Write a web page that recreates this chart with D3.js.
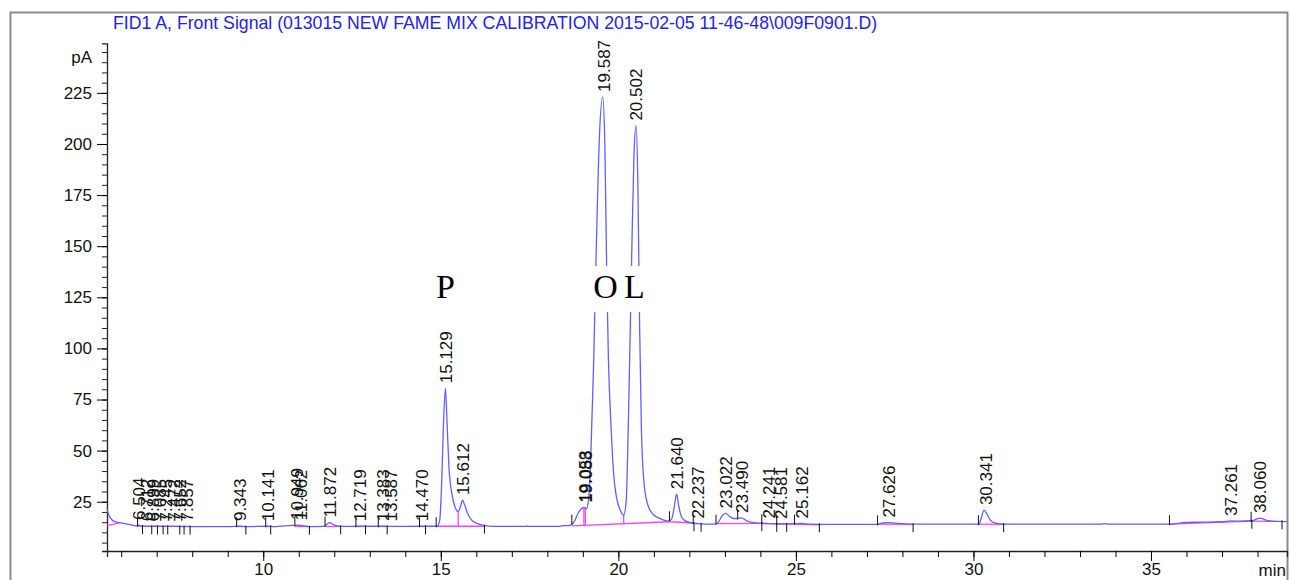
<!DOCTYPE html>
<html>
<head>
<meta charset="utf-8">
<script src="https://cdn.jsdelivr.net/npm/d3@7.9.0/dist/d3.min.js"></script>
<style>
    body { margin: 0; background: #fff; }
    svg { display: block; font-family: Arial, 'Liberation Sans', sans-serif; }
</style>
</head>
<body>
<svg id="chart" width="1290" height="580"></svg>
<script>
const title = 'FID1 A, Front Signal (013015 NEW FAME MIX CALIBRATION 2015-02-05 11-46-48\\009F0901.D)';

// signal trace: [retention time (min), pA]
const trace = [
    [5.60, 21.8], [5.64, 19.0], [5.70, 17.0], [5.80, 15.4], [5.95, 14.8], [6.10, 14.3],
    [6.30, 13.6], [6.45, 13.2], [6.50, 13.6], [6.56, 13.1], [6.90, 12.9], [7.50, 12.9],
    [7.90, 12.8], [9.00, 12.8], [9.34, 13.1], [9.50, 12.8], [10.14, 13.0], [10.30, 12.8],
    [10.95, 13.6], [11.06, 13.4], [11.30, 12.8], [11.70, 12.9], [11.87, 14.8], [12.00, 13.6],
    [12.20, 12.9], [12.72, 13.0], [13.38, 13.0], [13.59, 12.9], [14.47, 13.0], [14.90, 13.0],
    [14.97, 16], [15.02, 32], [15.07, 60], [15.13, 80.5], [15.18, 62], [15.23, 42],
    [15.31, 29], [15.40, 22.5], [15.49, 20.2], [15.56, 23], [15.61, 25.8], [15.67, 23.5],
    [15.75, 19.5], [15.87, 16], [16.00, 14.5], [16.20, 13.4], [16.50, 12.9], [17.40, 12.9],
    [17.42, 13.2], [17.46, 12.9], [18.30, 12.9], [18.45, 13.3], [18.60, 13.3], [18.75, 15],
    [18.87, 19.5], [18.96, 21.6], [19.05, 22.2], [19.10, 21.5], [19.16, 26], [19.22, 45],
    [19.30, 90], [19.38, 150], [19.47, 205], [19.56, 223], [19.62, 200], [19.67, 140],
    [19.72, 95], [19.80, 60], [19.87, 38], [19.95, 27], [20.05, 21], [20.15, 18.5],
    [20.22, 25], [20.29, 70], [20.37, 140], [20.44, 195], [20.50, 209], [20.55, 180],
    [20.60, 110], [20.65, 60], [20.72, 35], [20.82, 24], [20.97, 19], [21.15, 17],
    [21.40, 15.5], [21.50, 16.5], [21.57, 22], [21.64, 28.7], [21.70, 23], [21.78, 17.5],
    [21.90, 15.5], [22.10, 14.5], [22.24, 14.3], [22.70, 14.0], [22.80, 14.6], [22.92, 18],
    [23.02, 19.3], [23.12, 18], [23.24, 16.8], [23.35, 16.8], [23.47, 17.1], [23.60, 15.8],
    [23.80, 14.8], [24.20, 14.3], [24.60, 14.1], [25.16, 14.4], [25.40, 14.0], [26.00, 13.9],
    [27.30, 13.9], [27.45, 14.6], [27.63, 14.8], [27.90, 14.4], [28.30, 14.0], [30.15, 14.0],
    [30.22, 17], [30.30, 20.9], [30.38, 19], [30.48, 16], [30.60, 14.6], [30.85, 14.0],
    [33.60, 14.0], [33.70, 14.3], [33.80, 14.0], [35.50, 14.0], [36.00, 14.9], [36.50, 15.0],
    [37.00, 15.2], [37.26, 15.6], [37.50, 15.5], [37.85, 15.7], [38.06, 17.0], [38.30, 15.7],
    [38.83, 15.3]
];

// peak labels: retention time and apex height
const peakTimes = ['6.504', '6.712', '6.899', '7.085', '7.245', '7.472', '7.652', '7.857',
    '9.343', '10.141', '10.949', '11.062', '11.872', '12.719', '13.383', '13.587', '14.470',
    '15.129', '15.612', '19.053', '19.088', '19.587', '20.502', '21.640', '22.237', '23.022',
    '23.490', '24.241', '24.581', '25.162', '27.626', '30.341', '37.261', '38.060'];
const peakHeights = [13.6, 13.0, 12.9, 12.9, 12.9, 12.9, 12.9, 12.9,
    13.1, 13.0, 13.6, 13.4, 14.8, 13.0, 13.0, 12.9, 13.0,
    80.5, 25.8, 22.2, 22.0, 223, 209, 28.7, 14.3, 19.3,
    17.1, 14.3, 14.1, 14.4, 14.8, 20.9, 15.6, 17.0];

// integration events
const startMarks = [6.46, 9.25, 10.07, 10.89, 11.74, 12.61, 13.24, 14.40, 14.87, 18.69,
    21.44, 22.11, 22.75, 23.36, 24.04, 24.46, 24.96, 27.3, 30.14, 35.52, 37.82];
const endMarks = [6.60, 6.86, 7.02, 7.18, 7.31, 7.65, 7.77, 7.94, 9.51, 10.21, 11.30, 12.18,
    12.88, 13.49, 14.57, 16.23, 22.13, 22.33, 24.04, 24.46, 24.74, 25.66, 28.3, 30.85, 37.84, 38.69];
const baselines = [
    [5.60, 13.3, 5.95, 14.7], [6.46, 13.1, 7.94, 12.9], [9.25, 12.9, 9.51, 12.9],
    [10.07, 12.9, 10.21, 12.9], [10.89, 12.9, 11.30, 12.9], [11.74, 12.9, 12.18, 12.9],
    [12.61, 12.9, 12.88, 12.9], [13.24, 12.9, 13.49, 12.9], [14.40, 12.9, 14.57, 12.9],
    [14.87, 13.0, 16.23, 13.0], [18.69, 13.2, 21.44, 15.2], [21.44, 15.2, 22.13, 14.6],
    [22.75, 14.3, 24.04, 14.4], [24.04, 14.4, 25.66, 13.7], [27.3, 14.0, 28.3, 13.9],
    [30.14, 14.0, 30.85, 14.0], [35.52, 14.0, 37.84, 15.5], [37.84, 15.5, 38.69, 15.4]
];
const dropLines = [15.49, 19.03, 19.07, 20.15];

const annotations = [['P', 15.129], ['O', 19.64], ['L', 20.45]];

const yMajor = [25, 50, 75, 100, 125, 150, 175, 200, 225];
const xMajor = [10, 15, 20, 25, 30, 35];

const svg = d3.select('#chart');

const xScale = d3.scaleLinear().domain([5.6, 38.83]).range([107, 1287]);
const yScale = d3.scaleLinear().domain([0.9, 249.2]).range([551, 43.4]);

// outer frame
svg.append('rect')
    .attr('x', 10.5).attr('y', 12.5)
    .attr('width', 1277).attr('height', 600)
    .attr('fill', 'none')
    .attr('stroke', '#8c8c8c')
    .attr('stroke-width', 2);

svg.append('text')
    .attr('x', 113).attr('y', 29)
    .attr('fill', '#2222ee')
    .style('font-size', '17.7px')
    .text(title);

// y axis
const yAxis = svg.append('g').attr('transform', 'translate(107,0)');
yAxis.call(d3.axisLeft(yScale).tickValues(d3.range(5, 250, 5)).tickSize(5).tickFormat(''));
yAxis.call((g) => g.selectAll('.tick line').attr('stroke', '#222'));
const yLab = svg.append('g').attr('transform', 'translate(107,0)')
    .call(d3.axisLeft(yScale).tickValues(yMajor).tickSize(10).tickPadding(5));
yLab.select('.domain').remove();
yLab.selectAll('text').style('font-size', '17px').attr('fill', '#111');
yAxis.select('.domain').attr('stroke', '#222').attr('stroke-width', 1.3);
svg.append('text').attr('x', 92).attr('y', 63).attr('text-anchor', 'end')
    .style('font-size', '17px').attr('fill', '#111').text('pA');

// x axis
const xAxis = svg.append('g').attr('transform', 'translate(0,551)')
    .call(d3.axisBottom(xScale).tickValues(d3.range(6, 39, 1)).tickSize(6).tickFormat(''));
xAxis.select('.domain').attr('stroke', '#222').attr('stroke-width', 1.3);
const xLab = svg.append('g').attr('transform', 'translate(0,551)')
    .call(d3.axisBottom(xScale).tickValues(xMajor).tickSize(10).tickPadding(2));
xLab.select('.domain').remove();
xLab.selectAll('text').style('font-size', '17px').attr('fill', '#111');
svg.append('text').attr('x', 1286).attr('y', 576).attr('text-anchor', 'end')
    .style('font-size', '17px').attr('fill', '#111').text('min');

// integration baselines
svg.append('g').selectAll('line')
    .data(baselines)
    .join('line')
    .attr('x1', (d) => xScale(d[0])).attr('y1', (d) => yScale(d[1]))
    .attr('x2', (d) => xScale(d[2])).attr('y2', (d) => yScale(d[3]))
    .attr('stroke', '#ff40ff')
    .attr('stroke-width', 1.3);

// trace value at a time (for placing marks on the curve)
const bis = d3.bisector((d) => d[0]).left;
function traceAt(t) {
    const i = Math.max(1, Math.min(trace.length - 1, bis(trace, t)));
    const a = trace[i - 1], b = trace[i];
    return a[1] + (b[1] - a[1]) * (t - a[0]) / (b[0] - a[0]);
}
function baseAt(t) {
    const seg = baselines.find((s) => t >= s[0] && t <= s[2]);
    if (!seg) return traceAt(t);
    return seg[1] + (seg[3] - seg[1]) * (t - seg[0]) / (seg[2] - seg[0]);
}

svg.append('g').selectAll('line')
    .data(dropLines)
    .join('line')
    .attr('x1', (d) => xScale(d)).attr('x2', (d) => xScale(d))
    .attr('y1', (d) => yScale(baseAt(d)))
    .attr('y2', (d) => yScale(traceAt(d)))
    .attr('stroke', '#ff40ff')
    .attr('stroke-width', 1.3);

// signal
const line = d3.line()
    .x((d) => xScale(d[0]))
    .y((d) => yScale(d[1]))
    .curve(d3.curveMonotoneX);

svg.append('path')
    .datum(trace)
    .attr('d', line)
    .attr('fill', 'none')
    .attr('stroke', '#6060ff')
    .attr('stroke-width', 1.3);

// event ticks
svg.append('g').selectAll('line')
    .data(startMarks)
    .join('line')
    .attr('x1', (d) => xScale(d)).attr('x2', (d) => xScale(d))
    .attr('y1', (d) => yScale(traceAt(d)) - 9)
    .attr('y2', (d) => yScale(traceAt(d)) + 1)
    .attr('stroke', '#111');
svg.append('g').selectAll('line')
    .data(endMarks)
    .join('line')
    .attr('x1', (d) => xScale(d)).attr('x2', (d) => xScale(d))
    .attr('y1', (d) => yScale(traceAt(d)) - 1)
    .attr('y2', (d) => yScale(traceAt(d)) + 8)
    .attr('stroke', '#111');

// peak labels
svg.append('g').selectAll('text')
    .data(peakTimes)
    .join('text')
    .attr('transform', (d, i) => `translate(${xScale(+d)},${yScale(peakHeights[i]) - 5}) rotate(-90)`)
    .attr('dy', '0.36em')
    .style('font-size', '17px')
    .attr('fill', '#111')
    .text((d) => d);

// peak letters
const ann = svg.append('g').selectAll('g')
    .data(annotations)
    .join('g')
    .attr('transform', (d) => `translate(${xScale(d[1])},298)`);
ann.filter((d) => d[0] !== 'P').append('rect')
    .attr('x', -14).attr('y', -32).attr('width', 28).attr('height', 46)
    .attr('fill', '#fff');
ann.append('text')
    .attr('text-anchor', 'middle')
    .style('font-family', "'Liberation Serif', 'Times New Roman', serif")
    .style('font-size', '34px')
    .attr('fill', '#000')
    .text((d) => d[0]);
</script>
</body>
</html>
